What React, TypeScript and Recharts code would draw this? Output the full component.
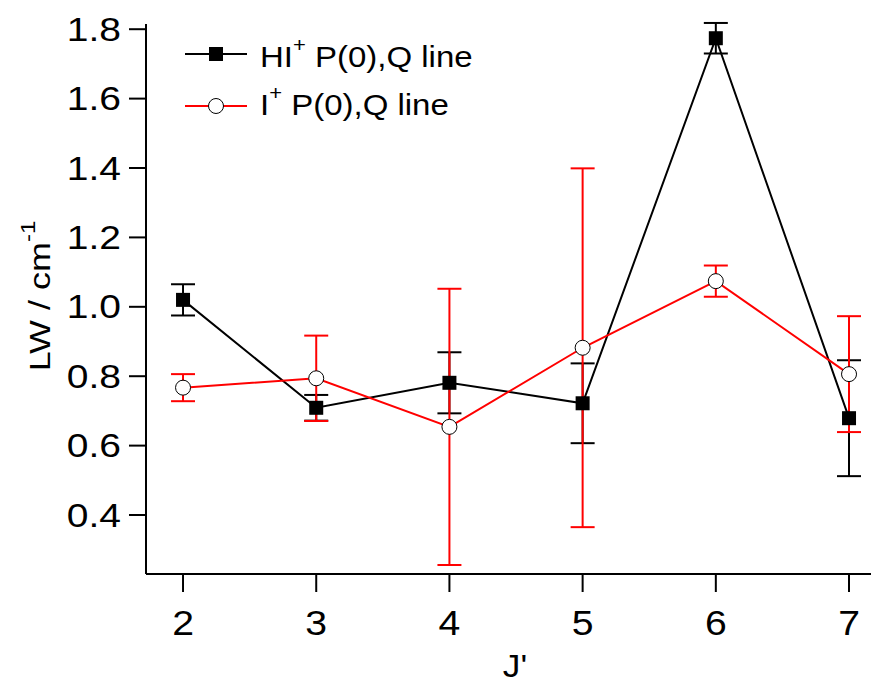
import React from 'react';
import { ComposedChart, Line, XAxis, YAxis, ErrorBar, Legend } from 'recharts';

const jValues = [2, 3, 4, 5, 6, 7];
const hiLW = [1.02, 0.709, 0.781, 0.722, 1.774, 0.679];
const hiErr = [0.045, 0.037, 0.088, 0.115, 0.044, 0.167];
const iLW = [0.767, 0.794, 0.654, 0.882, 1.074, 0.806];
const iErr = [0.039, 0.123, 0.398, 0.517, 0.045, 0.167];
const xTicks = [2, 3, 4, 5, 6, 7];
const yTicks = [0.4, 0.6, 0.8, 1.0, 1.2, 1.4, 1.6, 1.8];

const data = jValues.map((j, i) => ({
    j,
    hi: hiLW[i],
    hiErr: hiErr[i],
    iPlus: iLW[i],
    iErr: iErr[i],
}));

const FONT = '"Liberation Sans", Arial, sans-serif';

const SquareDot = (props: any) => {
    const { cx, cy, index } = props;
    if (cx == null || cy == null) return <g key={`sq-${index}`} />;
    return <rect key={`sq-${index}`} x={cx - 7} y={cy - 7} width={14} height={14} fill="#000" />;
};

const CircleDot = (props: any) => {
    const { cx, cy, index } = props;
    if (cx == null || cy == null) return <g key={`ci-${index}`} />;
    return <circle key={`ci-${index}`} cx={cx} cy={cy} r={7.5} fill="#fff" stroke="#000" strokeWidth={1} />;
};

// the original text is drawn a bit wider than Arial, so stretch it horizontally
const YTick = (props: any) => {
    const { x, y, payload } = props;
    return (
        <g transform={`translate(${x},${y})`}>
            <text x={0} y={0} dy="0.355em" textAnchor="end" fontSize={32.5} fill="#000" transform="scale(1.2,1)">
                {Number(payload.value).toFixed(1)}
            </text>
        </g>
    );
};

const XTick = (props: any) => {
    const { x, y, payload } = props;
    return (
        <g transform={`translate(${x},${y})`}>
            <text x={0} y={0} dy="0.71em" textAnchor="middle" fontSize={35} fill="#000" transform="scale(1.12,1)">
                {payload.value}
            </text>
        </g>
    );
};

const LegendBox = () => (
    <svg width={320} height={110} style={{ fontFamily: FONT, overflow: 'visible' }}>
        <line x1={15} y1={34} x2={77} y2={34} stroke="#000" strokeWidth={2} />
        <rect x={39} y={27} width={14} height={14} fill="#000" />
        <text fontSize={30} fill="#000" transform="translate(90,47) scale(1.1,1)">
            HI<tspan dy={-15} fontSize={20}>+</tspan>
            <tspan dy={15}> P(0),Q line</tspan>
        </text>
        <line x1={15} y1={86} x2={77} y2={86} stroke="#f00" strokeWidth={2} />
        <circle cx={46} cy={86} r={7.5} fill="#fff" stroke="#000" strokeWidth={1} />
        <text fontSize={30} fill="#000" transform="translate(90,95) scale(1.1,1)">
            I<tspan dy={-15} fontSize={20}>+</tspan>
            <tspan dy={15}> P(0),Q line</tspan>
        </text>
    </svg>
);

const YLabel = () => (
    <text
        textAnchor="middle"
        fontSize={30}
        fill="#000"
        transform="translate(50,296) rotate(-90) scale(1.2,1)"
        style={{ fontFamily: FONT }}
    >
        LW / cm<tspan dy={-15} fontSize={20}>-1</tspan>
    </text>
);

const XLabel = () => (
    <text
        textAnchor="middle"
        fontSize={32}
        fill="#000"
        transform="translate(515,677) scale(1.1,1)"
        style={{ fontFamily: FONT }}
    >
        J'
    </text>
);

export default function App() {
    return (
        <div style={{ position: 'absolute', left: 0, top: 0, background: '#fff' }}>
            <ComposedChart
                width={871}
                height={684}
                data={data}
                margin={{ top: 24, right: 0, left: 0, bottom: 0 }}
                style={{ fontFamily: FONT }}
            >
                <XAxis
                    type="number"
                    dataKey="j"
                    domain={[1.722, 7.165]}
                    ticks={xTicks}
                    allowDataOverflow
                    height={110}
                    tickSize={18}
                    tickMargin={18}
                    axisLine={{ stroke: '#000', strokeWidth: 2 }}
                    tickLine={{ stroke: '#000', strokeWidth: 2 }}
                    tick={XTick}
                    label={{ content: () => <XLabel /> }}
                />
                <YAxis
                    type="number"
                    domain={[0.23, 1.815]}
                    ticks={yTicks}
                    allowDataOverflow
                    width={146}
                    tickSize={17}
                    tickMargin={8}
                    axisLine={{ stroke: '#000', strokeWidth: 2 }}
                    tickLine={{ stroke: '#000', strokeWidth: 2 }}
                    tick={YTick}
                    label={{ content: () => <YLabel /> }}
                />
                <Legend
                    layout="horizontal"
                    verticalAlign="middle"
                    align="center"
                    wrapperStyle={{ position: 'absolute', left: 170, top: 20, width: 320, height: 110 }}
                    content={() => <LegendBox />}
                />
                <Line
                    dataKey="hi"
                    name="HI+ P(0),Q line"
                    stroke="#000"
                    strokeWidth={2}
                    dot={SquareDot}
                    activeDot={false}
                    isAnimationActive={false}
                >
                    <ErrorBar dataKey="hiErr" direction="y" width={12} stroke="#000" strokeWidth={2} />
                </Line>
                <Line
                    dataKey="iPlus"
                    name="I+ P(0),Q line"
                    stroke="#f00"
                    strokeWidth={2}
                    dot={CircleDot}
                    activeDot={false}
                    isAnimationActive={false}
                >
                    <ErrorBar dataKey="iErr" direction="y" width={12} stroke="#f00" strokeWidth={2} />
                </Line>
            </ComposedChart>
        </div>
    );
}
